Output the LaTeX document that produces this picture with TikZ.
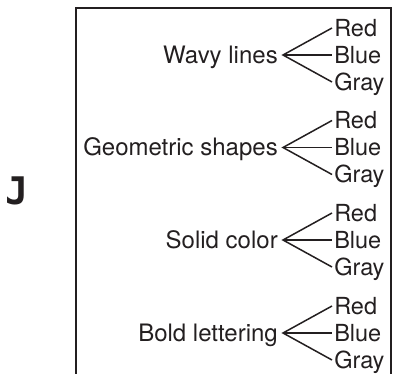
\documentclass[tikz,border=0pt]{standalone}
\usepackage{fontspec}
\setmainfont{TeX Gyre Heros}
\newfontfamily\jfont{DejaVu Sans Mono}
\definecolor{ink}{HTML}{231F20}

\begin{document}
\begin{tikzpicture}[x=1pt,y=-1pt,ink,line width=1.5pt,
  lbl/.style={anchor=east,inner sep=0pt,text height=16.7pt,text depth=0pt,font=\fontsize{24}{28}\selectfont},
  leaf/.style={anchor=west,inner sep=1.5pt,text height=16.7pt,text depth=0pt,font=\fontsize{23.5}{28}\selectfont}]
\useasboundingbox (0,0) rectangle (393,374);
\node[font=\jfont\bfseries\fontsize{38}{38}\selectfont](j) at (17,191) {J};
\draw[line width=2pt] (76,374) -- (76,8) -- (390.5,8) -- (390.5,374);
% wavy lines
\node[lbl](w) at (278.5,55) {Wavy lines};
\coordinate (wv) at (283,55);
\node[leaf](wr) at (332,28) {Red};
\node[leaf](wb) at (332,55) {Blue};
\node[leaf](wg) at (332,82) {Gray};
\draw (wr.west) -- (wv) -- (wg.west);
\draw (wv) -- (wb.west);
% geometric shapes
\node[lbl](s) at (278.5,147.5) {Geometric shapes};
\coordinate (sv) at (283,147.5);
\node[leaf](sr) at (332,120.5) {Red};
\node[leaf](sb) at (332,147.5) {Blue};
\node[leaf](sg) at (332,174.5) {Gray};
\draw (sr.west) -- (sv) -- (sg.west);
\draw (sv) -- (sb.west);
% solid color
\node[lbl](c) at (278.5,240) {Solid color};
\coordinate (cv) at (283,240);
\node[leaf](cr) at (332,213) {Red};
\node[leaf](cb) at (332,240) {Blue};
\node[leaf](cg) at (332,267) {Gray};
\draw (cr.west) -- (cv) -- (cg.west);
\draw (cv) -- (cb.west);
% bold lettering
\node[lbl](b) at (278.5,333) {Bold lettering};
\coordinate (bv) at (283,333);
\node[leaf](br) at (332,306) {Red};
\node[leaf](bb) at (332,333) {Blue};
\node[leaf](bg) at (332,360) {Gray};
\draw (br.west) -- (bv) -- (bg.west);
\draw (bv) -- (bb.west);
\end{tikzpicture}
\end{document}
